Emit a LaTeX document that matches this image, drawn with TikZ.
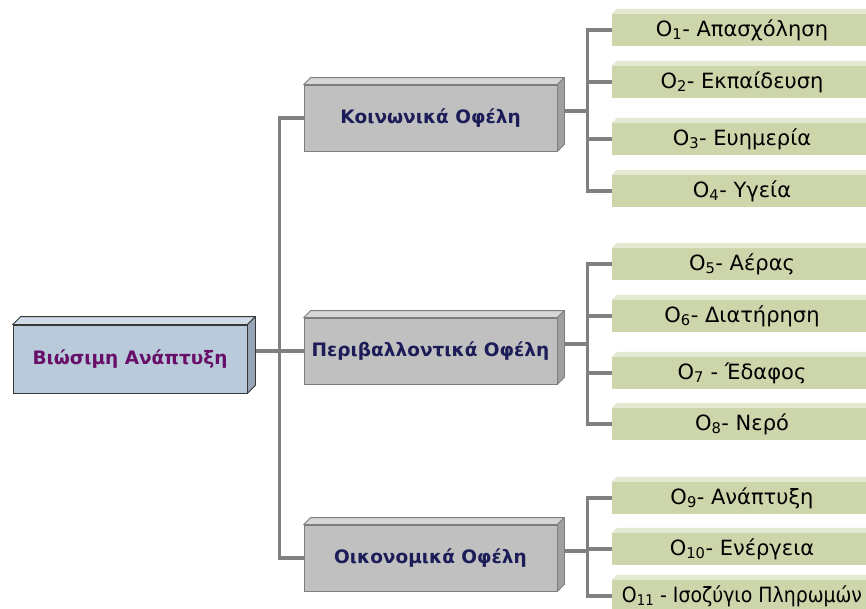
\documentclass[tikz,border=0pt]{standalone}
\usepackage{fontspec}
\setmainfont{DejaVu Sans}
\usetikzlibrary{calc,backgrounds}

\definecolor{conngray}{RGB}{128,128,128}
\definecolor{mainfill}{RGB}{185,203,219}
\definecolor{maintop}{RGB}{207,219,230}
\definecolor{mainside}{RGB}{150,166,182}
\definecolor{mainedge}{RGB}{55,55,55}
\definecolor{maintext}{RGB}{104,14,104}
\definecolor{midfill}{RGB}{192,192,192}
\definecolor{midtop}{RGB}{214,214,214}
\definecolor{midside}{RGB}{160,160,160}
\definecolor{midedge}{RGB}{125,125,125}
\definecolor{midtext}{RGB}{28,28,88}
\definecolor{leaffill}{RGB}{205,213,170}
\definecolor{leaftop}{RGB}{228,233,210}

% front face of a box plus its top and right faces
\newcommand\boxfaces[5]{%
  \filldraw[fill=#3,draw=#5,line width=0.8pt,line join=round]
    (#1.north west) -- ++(#2,-#2) -- ($(#1.north east)+(#2,-#2)$) -- (#1.north east) -- cycle;
  \filldraw[fill=#4,draw=#5,line width=0.8pt,line join=round]
    (#1.north east) -- ++(#2,-#2) -- ($(#1.south east)+(#2,-#2)$) -- (#1.south east) -- cycle;
}

\tikzset{
  cube/.style={draw, rectangle, inner sep=0pt, line width=0.8pt},
  mainbox/.style={cube, fill=mainfill, draw=mainedge, minimum width=234pt,
    minimum height=68pt, text=maintext, font=\bfseries\fontsize{18.5}{22}\selectfont},
  midbox/.style={cube, fill=midfill, draw=midedge, minimum width=253pt,
    minimum height=66pt, text=midtext, font=\bfseries\fontsize{18.5}{22}\selectfont},
  leafbox/.style={rectangle, inner sep=0pt, fill=leaffill, minimum width=260pt,
    minimum height=32pt, text=black, font=\fontsize{21}{24}\selectfont},
  conn/.style={draw=conngray, line width=3.5pt, line join=miter}
}

\begin{document}
\begin{tikzpicture}[x=1pt,y=-1pt]
\clip (0,0) rectangle (866,608);

% root and the three benefit groups
\node[mainbox] (main) at (130,359) {Βιώσιμη Ανάπτυξη};
\boxfaces{main}{8}{maintop}{mainside}{mainedge}
\node[midbox] (soc) at (430.5,118) {Κοινωνικά Οφέλη};
\boxfaces{soc}{7}{midtop}{midside}{midedge}
\node[midbox] (env) at (430.5,351) {Περιβαλλοντικά Οφέλη};
\boxfaces{env}{7}{midtop}{midside}{midedge}
\node[midbox] (eco) at (430.5,558) {Οικονομικά Οφέλη};
\boxfaces{eco}{7}{midtop}{midside}{midedge}

% individual benefits
\foreach \n/\yy/\txt in {
  1/30/{O\textsubscript{1}- Απασχόληση},
  2/82/{O\textsubscript{2}- Εκπαίδευση},
  3/139/{O\textsubscript{3}- Ευημερία},
  4/191/{O\textsubscript{4}- Υγεία},
  5/264/{O\textsubscript{5}- Αέρας},
  6/316/{O\textsubscript{6}- Διατήρηση},
  7/373/{O\textsubscript{7} - Έδαφος},
  8/424/{O\textsubscript{8}- Νερό},
  9/498/{O\textsubscript{9}- Ανάπτυξη},
  10/549/{O\textsubscript{10}- Ενέργεια},
  11/596/{\scalebox{0.9}[1]{O\textsubscript{11} - Ισοζύγιο Πληρωμών}}}{
  \node[leafbox] (l\n) at (742,\yy) {\txt};
  \fill[leaftop] (l\n.north west) -- ++(5,-5) -- ($(l\n.north east)+(5,-5)$) -- (l\n.north east) -- cycle;
}

\begin{scope}[on background layer]
  \fill[white] (0,0) rectangle (866,608);
  % root to groups
  \coordinate (mj) at ($(main.east)+(32,-8)$);
  \draw[conn] ($(main.east)+(8,-8)$) -- (mj);
  \draw[conn] (soc.west) -| (mj) |- (eco.west);
  \draw[conn] (mj) -- (env.west |- mj);
  % groups to benefits
  \coordinate (sj) at ($(soc.east)+(30,-7)$);
  \draw[conn] ($(soc.east)+(7,-7)$) -- (sj);
  \draw[conn] (l1.west) -| (sj) |- (l4.west);
  \draw[conn] (sj |- l2.west) -- (l2.west);
  \draw[conn] (sj |- l3.west) -- (l3.west);
  \coordinate (ej) at ($(env.east)+(30,-7)$);
  \draw[conn] ($(env.east)+(7,-7)$) -- (ej);
  \draw[conn] (l5.west) -| (ej) |- (l8.west);
  \draw[conn] (ej |- l6.west) -- (l6.west);
  \draw[conn] (ej |- l7.west) -- (l7.west);
  \coordinate (oj) at ($(eco.east)+(30,-7)$);
  \draw[conn] ($(eco.east)+(7,-7)$) -- (oj);
  \draw[conn] (l9.west) -| (oj) |- (l11.west);
  \draw[conn] (oj |- l10.west) -- (l10.west);
\end{scope}
\end{tikzpicture}
\end{document}
